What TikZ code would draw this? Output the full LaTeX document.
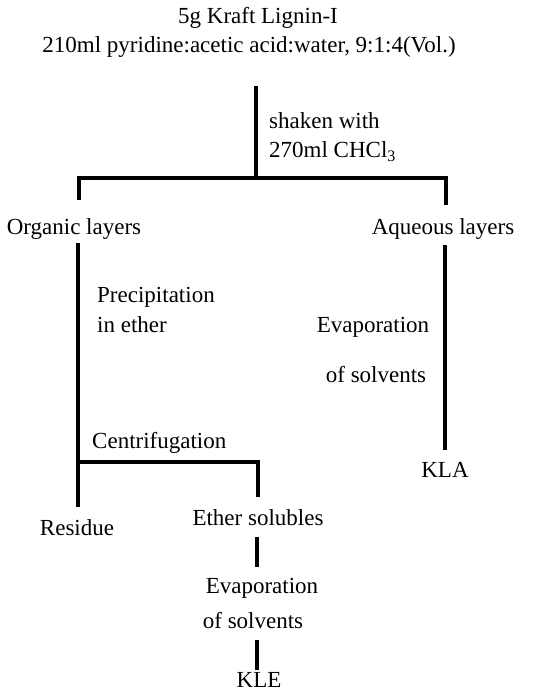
\documentclass[tikz,border=0pt]{standalone}
\usepackage{fontspec}
\setmainfont{Liberation Serif}
\usetikzlibrary{positioning,calc}

\begin{document}
\begin{tikzpicture}[x=1pt, y=-1pt,
    lbl/.style={inner sep=0pt, font=\fontsize{23}{27}\selectfont, text height=16pt, text depth=5pt},
    flow/.style={line width=3.2pt}]
    \useasboundingbox (0,0) rectangle (538,699);

    % Starting material
    \node[lbl] (lignin) at (258,18) {5g Kraft Lignin-I};
    \node[lbl] (solvent) at (249,47) {210ml pyridine:acetic acid:water, 9:1:4(Vol.)};

    % Extraction with chloroform
    \coordinate (shakeTop) at (256,86);
    \coordinate (split) at (256,178);
    \coordinate (barL) at (79,178);
    \coordinate (barR) at (446,178);
    \coordinate (orgDrop) at (79,200);
    \coordinate (aqDrop) at (446,205);
    \draw[flow] (shakeTop) -- (split);
    \draw[flow] (orgDrop) -- (barL) -- (barR) -- (aqDrop);
    \node[lbl, anchor=west] (shaken) at (269,123) {shaken with};
    \node[lbl, anchor=west] (chcl) at (269,152) {270ml CHCl\textsubscript{3}};

    % Layers
    \node[lbl] (organic) at (74,229) {Organic layers};
    \node[lbl] (aqueous) at (443,229) {Aqueous layers};

    % Organic branch
    \coordinate (orgTop) at (78,243);
    \coordinate (cenL) at (78,462);
    \coordinate (cenR) at (258,462);
    \coordinate (solDrop) at (258,497);
    \coordinate (resDrop) at (78,507);
    \draw[flow] (orgTop) -- (resDrop);
    \draw[flow] (cenL) -- (cenR) -- (solDrop);
    \node[lbl, anchor=west] (precip) at (97,297) {Precipitation};
    \node[lbl, anchor=west] (inether) at (97,327) {in ether};
    \node[lbl, anchor=west] (centri) at (92,443) {Centrifugation};

    % Aqueous branch
    \coordinate (aqTop) at (445,245);
    \coordinate (aqEnd) at (445,450);
    \draw[flow] (aqTop) -- (aqEnd);
    \node[lbl] (evapA) at (373,327) {Evaporation};
    \node[lbl] (solvA) at (376,377) {of solvents};
    \node[lbl] (kla) at (445,472) {KLA};

    % Products of centrifugation
    \node[lbl] (residue) at (77,530) {Residue};
    \node[lbl] (ethsol) at (258,520) {Ether solubles};
    \coordinate (eTop) at (257,537);
    \coordinate (eEnd) at (257,567);
    \draw[flow] (eTop) -- (eEnd);
    \node[lbl] (evapE) at (262,588) {Evaporation};
    \node[lbl] (solvE) at (253,623) {of solvents};
    \coordinate (kTop) at (257,640);
    \coordinate (kEnd) at (257,670);
    \draw[flow] (kTop) -- (kEnd);
    \node[lbl] (kle) at (259,682) {KLE};
\end{tikzpicture}
\end{document}
